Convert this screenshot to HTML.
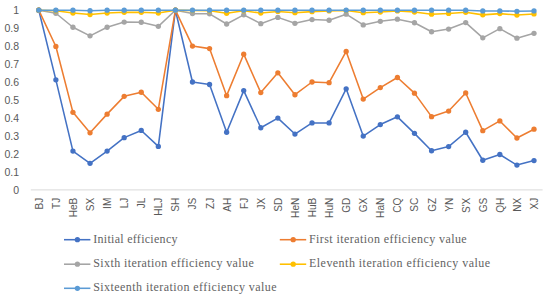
<!DOCTYPE html>
<html><head><meta charset="utf-8"><style>
html,body{margin:0;padding:0;background:#fff;}
body{width:550px;height:300px;overflow:hidden;}
svg{display:block;}
.yl{font-family:"Liberation Sans",sans-serif;font-size:10.5px;fill:#595959;}
.xl{font-family:"Liberation Sans",sans-serif;font-size:10.1px;fill:#595959;}
.lg{font-family:"Liberation Serif",serif;font-size:12px;fill:#636363;}
</style></head><body>
<svg width="550" height="300" viewBox="0 0 550 300">
<line x1="30.8" y1="189.9" x2="542.6" y2="189.9" stroke="#D9D9D9" stroke-width="1"/>
<text x="19.0" y="193.75" text-anchor="end" class="yl">0</text>
<text x="19.0" y="175.80" text-anchor="end" class="yl">0.1</text>
<text x="19.0" y="157.85" text-anchor="end" class="yl">0.2</text>
<text x="19.0" y="139.90" text-anchor="end" class="yl">0.3</text>
<text x="19.0" y="121.95" text-anchor="end" class="yl">0.4</text>
<text x="19.0" y="104.00" text-anchor="end" class="yl">0.5</text>
<text x="19.0" y="86.05" text-anchor="end" class="yl">0.6</text>
<text x="19.0" y="68.10" text-anchor="end" class="yl">0.7</text>
<text x="19.0" y="50.15" text-anchor="end" class="yl">0.8</text>
<text x="19.0" y="32.20" text-anchor="end" class="yl">0.9</text>
<text x="19.0" y="14.25" text-anchor="end" class="yl">1</text>
<text transform="translate(42.80,197.7) rotate(-90)" text-anchor="end" class="xl">BJ</text>
<text transform="translate(59.88,197.7) rotate(-90)" text-anchor="end" class="xl">TJ</text>
<text transform="translate(76.95,197.7) rotate(-90)" text-anchor="end" class="xl">HeB</text>
<text transform="translate(94.03,197.7) rotate(-90)" text-anchor="end" class="xl">SX</text>
<text transform="translate(111.10,197.7) rotate(-90)" text-anchor="end" class="xl">IM</text>
<text transform="translate(128.18,197.7) rotate(-90)" text-anchor="end" class="xl">LJ</text>
<text transform="translate(145.26,197.7) rotate(-90)" text-anchor="end" class="xl">JL</text>
<text transform="translate(162.33,197.7) rotate(-90)" text-anchor="end" class="xl">HLJ</text>
<text transform="translate(179.41,197.7) rotate(-90)" text-anchor="end" class="xl">SH</text>
<text transform="translate(196.48,197.7) rotate(-90)" text-anchor="end" class="xl">JS</text>
<text transform="translate(213.56,197.7) rotate(-90)" text-anchor="end" class="xl">ZJ</text>
<text transform="translate(230.64,197.7) rotate(-90)" text-anchor="end" class="xl">AH</text>
<text transform="translate(247.71,197.7) rotate(-90)" text-anchor="end" class="xl">FJ</text>
<text transform="translate(264.79,197.7) rotate(-90)" text-anchor="end" class="xl">JX</text>
<text transform="translate(281.86,197.7) rotate(-90)" text-anchor="end" class="xl">SD</text>
<text transform="translate(298.94,197.7) rotate(-90)" text-anchor="end" class="xl">HeN</text>
<text transform="translate(316.02,197.7) rotate(-90)" text-anchor="end" class="xl">HuB</text>
<text transform="translate(333.09,197.7) rotate(-90)" text-anchor="end" class="xl">HuN</text>
<text transform="translate(350.17,197.7) rotate(-90)" text-anchor="end" class="xl">GD</text>
<text transform="translate(367.24,197.7) rotate(-90)" text-anchor="end" class="xl">GX</text>
<text transform="translate(384.32,197.7) rotate(-90)" text-anchor="end" class="xl">HaN</text>
<text transform="translate(401.40,197.7) rotate(-90)" text-anchor="end" class="xl">CQ</text>
<text transform="translate(418.47,197.7) rotate(-90)" text-anchor="end" class="xl">SC</text>
<text transform="translate(435.55,197.7) rotate(-90)" text-anchor="end" class="xl">GZ</text>
<text transform="translate(452.62,197.7) rotate(-90)" text-anchor="end" class="xl">YN</text>
<text transform="translate(469.70,197.7) rotate(-90)" text-anchor="end" class="xl">S'X</text>
<text transform="translate(486.78,197.7) rotate(-90)" text-anchor="end" class="xl">GS</text>
<text transform="translate(503.85,197.7) rotate(-90)" text-anchor="end" class="xl">QH</text>
<text transform="translate(520.93,197.7) rotate(-90)" text-anchor="end" class="xl">NX</text>
<text transform="translate(538.00,197.7) rotate(-90)" text-anchor="end" class="xl">XJ</text>
<polyline points="38.80,10.20 55.88,79.85 72.95,151.11 90.03,163.31 107.10,151.11 124.18,137.64 141.26,130.46 158.33,146.44 175.41,10.20 192.48,82.00 209.56,84.51 226.64,132.26 243.71,90.62 260.79,127.77 277.86,118.08 294.94,134.05 312.02,122.93 329.09,122.93 346.17,88.82 363.24,136.03 380.32,124.54 397.40,116.82 414.47,133.34 431.55,150.75 448.62,146.62 465.70,132.26 482.78,160.26 499.85,154.52 516.93,165.11 534.00,160.62" fill="none" stroke="#4472C4" stroke-width="1.55" stroke-linejoin="round" stroke-linecap="round"/>
<circle cx="38.80" cy="10.20" r="2.65" fill="#4472C4"/>
<circle cx="55.88" cy="79.85" r="2.65" fill="#4472C4"/>
<circle cx="72.95" cy="151.11" r="2.65" fill="#4472C4"/>
<circle cx="90.03" cy="163.31" r="2.65" fill="#4472C4"/>
<circle cx="107.10" cy="151.11" r="2.65" fill="#4472C4"/>
<circle cx="124.18" cy="137.64" r="2.65" fill="#4472C4"/>
<circle cx="141.26" cy="130.46" r="2.65" fill="#4472C4"/>
<circle cx="158.33" cy="146.44" r="2.65" fill="#4472C4"/>
<circle cx="175.41" cy="10.20" r="2.65" fill="#4472C4"/>
<circle cx="192.48" cy="82.00" r="2.65" fill="#4472C4"/>
<circle cx="209.56" cy="84.51" r="2.65" fill="#4472C4"/>
<circle cx="226.64" cy="132.26" r="2.65" fill="#4472C4"/>
<circle cx="243.71" cy="90.62" r="2.65" fill="#4472C4"/>
<circle cx="260.79" cy="127.77" r="2.65" fill="#4472C4"/>
<circle cx="277.86" cy="118.08" r="2.65" fill="#4472C4"/>
<circle cx="294.94" cy="134.05" r="2.65" fill="#4472C4"/>
<circle cx="312.02" cy="122.93" r="2.65" fill="#4472C4"/>
<circle cx="329.09" cy="122.93" r="2.65" fill="#4472C4"/>
<circle cx="346.17" cy="88.82" r="2.65" fill="#4472C4"/>
<circle cx="363.24" cy="136.03" r="2.65" fill="#4472C4"/>
<circle cx="380.32" cy="124.54" r="2.65" fill="#4472C4"/>
<circle cx="397.40" cy="116.82" r="2.65" fill="#4472C4"/>
<circle cx="414.47" cy="133.34" r="2.65" fill="#4472C4"/>
<circle cx="431.55" cy="150.75" r="2.65" fill="#4472C4"/>
<circle cx="448.62" cy="146.62" r="2.65" fill="#4472C4"/>
<circle cx="465.70" cy="132.26" r="2.65" fill="#4472C4"/>
<circle cx="482.78" cy="160.26" r="2.65" fill="#4472C4"/>
<circle cx="499.85" cy="154.52" r="2.65" fill="#4472C4"/>
<circle cx="516.93" cy="165.11" r="2.65" fill="#4472C4"/>
<circle cx="534.00" cy="160.62" r="2.65" fill="#4472C4"/>
<polyline points="38.80,10.20 55.88,46.46 72.95,112.34 90.03,132.80 107.10,114.13 124.18,96.36 141.26,92.23 158.33,109.28 175.41,10.20 192.48,46.10 209.56,48.61 226.64,95.64 243.71,54.18 260.79,92.59 277.86,72.85 294.94,94.74 312.02,82.00 329.09,82.72 346.17,51.48 363.24,99.05 380.32,87.56 397.40,77.51 414.47,93.13 431.55,116.64 448.62,111.08 465.70,92.95 482.78,130.64 499.85,120.95 516.93,138.00 534.00,129.21" fill="none" stroke="#ED7D31" stroke-width="1.55" stroke-linejoin="round" stroke-linecap="round"/>
<circle cx="38.80" cy="10.20" r="2.65" fill="#ED7D31"/>
<circle cx="55.88" cy="46.46" r="2.65" fill="#ED7D31"/>
<circle cx="72.95" cy="112.34" r="2.65" fill="#ED7D31"/>
<circle cx="90.03" cy="132.80" r="2.65" fill="#ED7D31"/>
<circle cx="107.10" cy="114.13" r="2.65" fill="#ED7D31"/>
<circle cx="124.18" cy="96.36" r="2.65" fill="#ED7D31"/>
<circle cx="141.26" cy="92.23" r="2.65" fill="#ED7D31"/>
<circle cx="158.33" cy="109.28" r="2.65" fill="#ED7D31"/>
<circle cx="175.41" cy="10.20" r="2.65" fill="#ED7D31"/>
<circle cx="192.48" cy="46.10" r="2.65" fill="#ED7D31"/>
<circle cx="209.56" cy="48.61" r="2.65" fill="#ED7D31"/>
<circle cx="226.64" cy="95.64" r="2.65" fill="#ED7D31"/>
<circle cx="243.71" cy="54.18" r="2.65" fill="#ED7D31"/>
<circle cx="260.79" cy="92.59" r="2.65" fill="#ED7D31"/>
<circle cx="277.86" cy="72.85" r="2.65" fill="#ED7D31"/>
<circle cx="294.94" cy="94.74" r="2.65" fill="#ED7D31"/>
<circle cx="312.02" cy="82.00" r="2.65" fill="#ED7D31"/>
<circle cx="329.09" cy="82.72" r="2.65" fill="#ED7D31"/>
<circle cx="346.17" cy="51.48" r="2.65" fill="#ED7D31"/>
<circle cx="363.24" cy="99.05" r="2.65" fill="#ED7D31"/>
<circle cx="380.32" cy="87.56" r="2.65" fill="#ED7D31"/>
<circle cx="397.40" cy="77.51" r="2.65" fill="#ED7D31"/>
<circle cx="414.47" cy="93.13" r="2.65" fill="#ED7D31"/>
<circle cx="431.55" cy="116.64" r="2.65" fill="#ED7D31"/>
<circle cx="448.62" cy="111.08" r="2.65" fill="#ED7D31"/>
<circle cx="465.70" cy="92.95" r="2.65" fill="#ED7D31"/>
<circle cx="482.78" cy="130.64" r="2.65" fill="#ED7D31"/>
<circle cx="499.85" cy="120.95" r="2.65" fill="#ED7D31"/>
<circle cx="516.93" cy="138.00" r="2.65" fill="#ED7D31"/>
<circle cx="534.00" cy="129.21" r="2.65" fill="#ED7D31"/>
<polyline points="38.80,10.20 55.88,13.25 72.95,27.25 90.03,35.87 107.10,27.25 124.18,22.05 141.26,22.23 158.33,26.35 175.41,10.20 192.48,13.61 209.56,13.79 226.64,24.02 243.71,14.87 260.79,23.66 277.86,17.38 294.94,23.30 312.02,19.53 329.09,20.25 346.17,14.15 363.24,24.92 380.32,21.33 397.40,19.17 414.47,22.76 431.55,31.74 448.62,29.05 465.70,22.59 482.78,37.84 499.85,28.69 516.93,38.20 534.00,33.36" fill="none" stroke="#A5A5A5" stroke-width="1.55" stroke-linejoin="round" stroke-linecap="round"/>
<circle cx="38.80" cy="10.20" r="2.65" fill="#A5A5A5"/>
<circle cx="55.88" cy="13.25" r="2.65" fill="#A5A5A5"/>
<circle cx="72.95" cy="27.25" r="2.65" fill="#A5A5A5"/>
<circle cx="90.03" cy="35.87" r="2.65" fill="#A5A5A5"/>
<circle cx="107.10" cy="27.25" r="2.65" fill="#A5A5A5"/>
<circle cx="124.18" cy="22.05" r="2.65" fill="#A5A5A5"/>
<circle cx="141.26" cy="22.23" r="2.65" fill="#A5A5A5"/>
<circle cx="158.33" cy="26.35" r="2.65" fill="#A5A5A5"/>
<circle cx="175.41" cy="10.20" r="2.65" fill="#A5A5A5"/>
<circle cx="192.48" cy="13.61" r="2.65" fill="#A5A5A5"/>
<circle cx="209.56" cy="13.79" r="2.65" fill="#A5A5A5"/>
<circle cx="226.64" cy="24.02" r="2.65" fill="#A5A5A5"/>
<circle cx="243.71" cy="14.87" r="2.65" fill="#A5A5A5"/>
<circle cx="260.79" cy="23.66" r="2.65" fill="#A5A5A5"/>
<circle cx="277.86" cy="17.38" r="2.65" fill="#A5A5A5"/>
<circle cx="294.94" cy="23.30" r="2.65" fill="#A5A5A5"/>
<circle cx="312.02" cy="19.53" r="2.65" fill="#A5A5A5"/>
<circle cx="329.09" cy="20.25" r="2.65" fill="#A5A5A5"/>
<circle cx="346.17" cy="14.15" r="2.65" fill="#A5A5A5"/>
<circle cx="363.24" cy="24.92" r="2.65" fill="#A5A5A5"/>
<circle cx="380.32" cy="21.33" r="2.65" fill="#A5A5A5"/>
<circle cx="397.40" cy="19.17" r="2.65" fill="#A5A5A5"/>
<circle cx="414.47" cy="22.76" r="2.65" fill="#A5A5A5"/>
<circle cx="431.55" cy="31.74" r="2.65" fill="#A5A5A5"/>
<circle cx="448.62" cy="29.05" r="2.65" fill="#A5A5A5"/>
<circle cx="465.70" cy="22.59" r="2.65" fill="#A5A5A5"/>
<circle cx="482.78" cy="37.84" r="2.65" fill="#A5A5A5"/>
<circle cx="499.85" cy="28.69" r="2.65" fill="#A5A5A5"/>
<circle cx="516.93" cy="38.20" r="2.65" fill="#A5A5A5"/>
<circle cx="534.00" cy="33.36" r="2.65" fill="#A5A5A5"/>
<polyline points="38.80,10.20 55.88,10.74 72.95,13.07 90.03,14.51 107.10,13.07 124.18,12.35 141.26,12.35 158.33,13.07 175.41,10.20 192.48,10.56 209.56,10.74 226.64,13.25 243.71,10.74 260.79,13.07 277.86,11.46 294.94,12.71 312.02,11.64 329.09,10.92 346.17,10.56 363.24,12.71 380.32,11.99 397.40,10.92 414.47,11.99 431.55,14.15 448.62,13.43 465.70,12.35 482.78,14.87 499.85,13.61 516.93,15.05 534.00,13.97" fill="none" stroke="#FFC000" stroke-width="1.55" stroke-linejoin="round" stroke-linecap="round"/>
<circle cx="38.80" cy="10.20" r="2.65" fill="#FFC000"/>
<circle cx="55.88" cy="10.74" r="2.65" fill="#FFC000"/>
<circle cx="72.95" cy="13.07" r="2.65" fill="#FFC000"/>
<circle cx="90.03" cy="14.51" r="2.65" fill="#FFC000"/>
<circle cx="107.10" cy="13.07" r="2.65" fill="#FFC000"/>
<circle cx="124.18" cy="12.35" r="2.65" fill="#FFC000"/>
<circle cx="141.26" cy="12.35" r="2.65" fill="#FFC000"/>
<circle cx="158.33" cy="13.07" r="2.65" fill="#FFC000"/>
<circle cx="175.41" cy="10.20" r="2.65" fill="#FFC000"/>
<circle cx="192.48" cy="10.56" r="2.65" fill="#FFC000"/>
<circle cx="209.56" cy="10.74" r="2.65" fill="#FFC000"/>
<circle cx="226.64" cy="13.25" r="2.65" fill="#FFC000"/>
<circle cx="243.71" cy="10.74" r="2.65" fill="#FFC000"/>
<circle cx="260.79" cy="13.07" r="2.65" fill="#FFC000"/>
<circle cx="277.86" cy="11.46" r="2.65" fill="#FFC000"/>
<circle cx="294.94" cy="12.71" r="2.65" fill="#FFC000"/>
<circle cx="312.02" cy="11.64" r="2.65" fill="#FFC000"/>
<circle cx="329.09" cy="10.92" r="2.65" fill="#FFC000"/>
<circle cx="346.17" cy="10.56" r="2.65" fill="#FFC000"/>
<circle cx="363.24" cy="12.71" r="2.65" fill="#FFC000"/>
<circle cx="380.32" cy="11.99" r="2.65" fill="#FFC000"/>
<circle cx="397.40" cy="10.92" r="2.65" fill="#FFC000"/>
<circle cx="414.47" cy="11.99" r="2.65" fill="#FFC000"/>
<circle cx="431.55" cy="14.15" r="2.65" fill="#FFC000"/>
<circle cx="448.62" cy="13.43" r="2.65" fill="#FFC000"/>
<circle cx="465.70" cy="12.35" r="2.65" fill="#FFC000"/>
<circle cx="482.78" cy="14.87" r="2.65" fill="#FFC000"/>
<circle cx="499.85" cy="13.61" r="2.65" fill="#FFC000"/>
<circle cx="516.93" cy="15.05" r="2.65" fill="#FFC000"/>
<circle cx="534.00" cy="13.97" r="2.65" fill="#FFC000"/>
<polyline points="38.80,10.20 55.88,10.20 72.95,10.20 90.03,10.74 107.10,10.20 124.18,10.20 141.26,10.20 158.33,10.20 175.41,10.20 192.48,10.20 209.56,10.20 226.64,10.20 243.71,10.20 260.79,10.20 277.86,10.20 294.94,10.20 312.02,10.20 329.09,10.20 346.17,10.20 363.24,10.20 380.32,10.20 397.40,10.20 414.47,10.20 431.55,10.20 448.62,10.20 465.70,10.20 482.78,10.92 499.85,10.92 516.93,11.28 534.00,10.92" fill="none" stroke="#5B9BD5" stroke-width="1.55" stroke-linejoin="round" stroke-linecap="round"/>
<circle cx="38.80" cy="10.20" r="2.65" fill="#5B9BD5"/>
<circle cx="55.88" cy="10.20" r="2.65" fill="#5B9BD5"/>
<circle cx="72.95" cy="10.20" r="2.65" fill="#5B9BD5"/>
<circle cx="90.03" cy="10.74" r="2.65" fill="#5B9BD5"/>
<circle cx="107.10" cy="10.20" r="2.65" fill="#5B9BD5"/>
<circle cx="124.18" cy="10.20" r="2.65" fill="#5B9BD5"/>
<circle cx="141.26" cy="10.20" r="2.65" fill="#5B9BD5"/>
<circle cx="158.33" cy="10.20" r="2.65" fill="#5B9BD5"/>
<circle cx="175.41" cy="10.20" r="2.65" fill="#5B9BD5"/>
<circle cx="192.48" cy="10.20" r="2.65" fill="#5B9BD5"/>
<circle cx="209.56" cy="10.20" r="2.65" fill="#5B9BD5"/>
<circle cx="226.64" cy="10.20" r="2.65" fill="#5B9BD5"/>
<circle cx="243.71" cy="10.20" r="2.65" fill="#5B9BD5"/>
<circle cx="260.79" cy="10.20" r="2.65" fill="#5B9BD5"/>
<circle cx="277.86" cy="10.20" r="2.65" fill="#5B9BD5"/>
<circle cx="294.94" cy="10.20" r="2.65" fill="#5B9BD5"/>
<circle cx="312.02" cy="10.20" r="2.65" fill="#5B9BD5"/>
<circle cx="329.09" cy="10.20" r="2.65" fill="#5B9BD5"/>
<circle cx="346.17" cy="10.20" r="2.65" fill="#5B9BD5"/>
<circle cx="363.24" cy="10.20" r="2.65" fill="#5B9BD5"/>
<circle cx="380.32" cy="10.20" r="2.65" fill="#5B9BD5"/>
<circle cx="397.40" cy="10.20" r="2.65" fill="#5B9BD5"/>
<circle cx="414.47" cy="10.20" r="2.65" fill="#5B9BD5"/>
<circle cx="431.55" cy="10.20" r="2.65" fill="#5B9BD5"/>
<circle cx="448.62" cy="10.20" r="2.65" fill="#5B9BD5"/>
<circle cx="465.70" cy="10.20" r="2.65" fill="#5B9BD5"/>
<circle cx="482.78" cy="10.92" r="2.65" fill="#5B9BD5"/>
<circle cx="499.85" cy="10.92" r="2.65" fill="#5B9BD5"/>
<circle cx="516.93" cy="11.28" r="2.65" fill="#5B9BD5"/>
<circle cx="534.00" cy="10.92" r="2.65" fill="#5B9BD5"/>
<line x1="64.0" y1="239.7" x2="90.4" y2="239.7" stroke="#4472C4" stroke-width="1.55"/>
<circle cx="77.4" cy="239.7" r="2.65" fill="#4472C4"/>
<text x="93.2" y="243.0" class="lg" textLength="84.3" lengthAdjust="spacing">Initial efficiency</text>
<line x1="279.8" y1="239.7" x2="306.2" y2="239.7" stroke="#ED7D31" stroke-width="1.55"/>
<circle cx="293.2" cy="239.7" r="2.65" fill="#ED7D31"/>
<text x="309.0" y="243.0" class="lg" textLength="157.7" lengthAdjust="spacing">First iteration efficiency value</text>
<line x1="64.0" y1="264.2" x2="90.4" y2="264.2" stroke="#A5A5A5" stroke-width="1.55"/>
<circle cx="77.4" cy="264.2" r="2.65" fill="#A5A5A5"/>
<text x="93.2" y="267.1" class="lg" textLength="160.6" lengthAdjust="spacing">Sixth iteration efficiency value</text>
<line x1="279.8" y1="264.2" x2="306.2" y2="264.2" stroke="#FFC000" stroke-width="1.55"/>
<circle cx="293.2" cy="264.2" r="2.65" fill="#FFC000"/>
<text x="309.0" y="267.1" class="lg" textLength="181.0" lengthAdjust="spacing">Eleventh iteration efficiency value</text>
<line x1="64.0" y1="288.3" x2="90.4" y2="288.3" stroke="#5B9BD5" stroke-width="1.55"/>
<circle cx="77.4" cy="288.3" r="2.65" fill="#5B9BD5"/>
<text x="93.2" y="291.3" class="lg" textLength="183.3" lengthAdjust="spacing">Sixteenth iteration efficiency value</text>
</svg>
</body></html>
